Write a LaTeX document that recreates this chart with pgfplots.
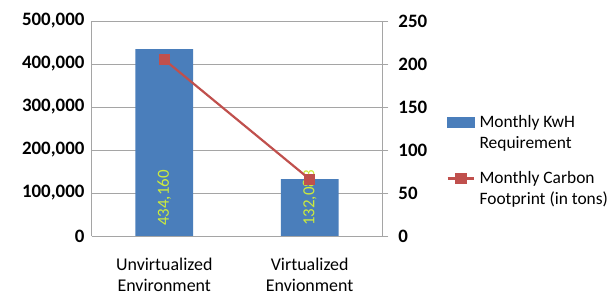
\documentclass[border=0pt]{standalone}
\usepackage{fontspec}
\setmainfont{Carlito}
\usepackage{pgfplots}
\pgfplotsset{compat=1.18}
\definecolor{barblue}{RGB}{74,126,187}
\definecolor{linered}{RGB}{192,80,77}
\definecolor{labgreen}{RGB}{205,235,60}
\definecolor{gridgray}{RGB}{165,165,165}
\newcommand{\fs}{\fontsize{17bp}{21bp}\selectfont}
\newcommand{\fl}{\fontsize{17.5bp}{21bp}\selectfont}
\newcommand{\fc}{\fontsize{18bp}{21bp}\selectfont}
\newcommand{\ft}{\fontsize{19bp}{21bp}\selectfont\bfseries}
\begin{document}
\begin{tikzpicture}
\begin{axis}[
  scale only axis, width=292bp, height=216bp,
  xmin=-0.5, xmax=1.5, ymin=0, ymax=500000,
  xtick={0,1},
  xticklabels={{Unvirtualized\\Environment},{Virtualized\\Envionment}},
  xticklabel style={align=center, font=\fc, inner sep=0pt, yshift=-22bp},
  x tick style={draw=none},
  ytick={0,100000,200000,300000,400000,500000},
  y tick style={draw=none},
  scaled y ticks=false,
  yticklabel style={font=\ft, inner sep=0pt, xshift=-7bp,
    /pgf/number format/.cd, fixed, 1000 sep={,}, assume math mode=true},
  ymajorgrids, grid style={gridgray, line width=0.8bp},
  axis line style={gridgray, line width=0.8bp},
  axis x line*=bottom, axis y line*=left,
]
\addplot[ybar, bar width=58bp, fill=barblue, draw=none] coordinates {(0,434160) (1,132083)};
\addplot[only marks, mark=none, point meta=explicit symbolic,
  nodes near coords,
  nodes near coords style={rotate=90, anchor=west, inner sep=0pt, inner xsep=10bp,
    font=\fs, text=labgreen}]
  coordinates {(0,0) [434{,}160] (1,0) [132{,}083]};
\end{axis}
\begin{axis}[
  scale only axis, width=292bp, height=216bp,
  xmin=-0.5, xmax=1.5, ymin=0, ymax=250,
  axis x line=none, axis y line*=right,
  ytick={0,50,100,150,200,250},
  tick align=outside, major tick length=6bp,
  y tick style={gridgray, line width=0.8bp},
  axis line style={gridgray, line width=0.8bp},
  yticklabel style={font=\ft, inner sep=0pt, xshift=10bp,
    /pgf/number format/assume math mode=true},
  legend style={at={(1.22,0.35)}, anchor=west, draw=none, fill=none,
    font=\fl, cells={align=left, anchor=west}, row sep=18bp,
    inner sep=0pt, column sep=2bp},
]
\addlegendimage{legend image code/.code={
  \fill[barblue] (0bp,5.5bp) rectangle (27bp,15.5bp);}}
\addlegendentry{Monthly KwH\\Requirement}
\addplot[linered, line width=2.2bp, mark=square*, mark size=4.5bp,
  mark options={fill=linered},
  legend image code/.code={
  \draw[linered, line width=2.2bp] (0bp,10.5bp) -- (27bp,10.5bp);
  \fill[linered] (9bp,6bp) rectangle (18bp,15bp);}]
  coordinates {(0,205) (1,66)};
\addlegendentry{Monthly Carbon\\Footprint (in tons)}
\end{axis}
\path[use as bounding box] (-92bp,-62bp) rectangle (518bp,237bp);
\end{tikzpicture}
\end{document}
